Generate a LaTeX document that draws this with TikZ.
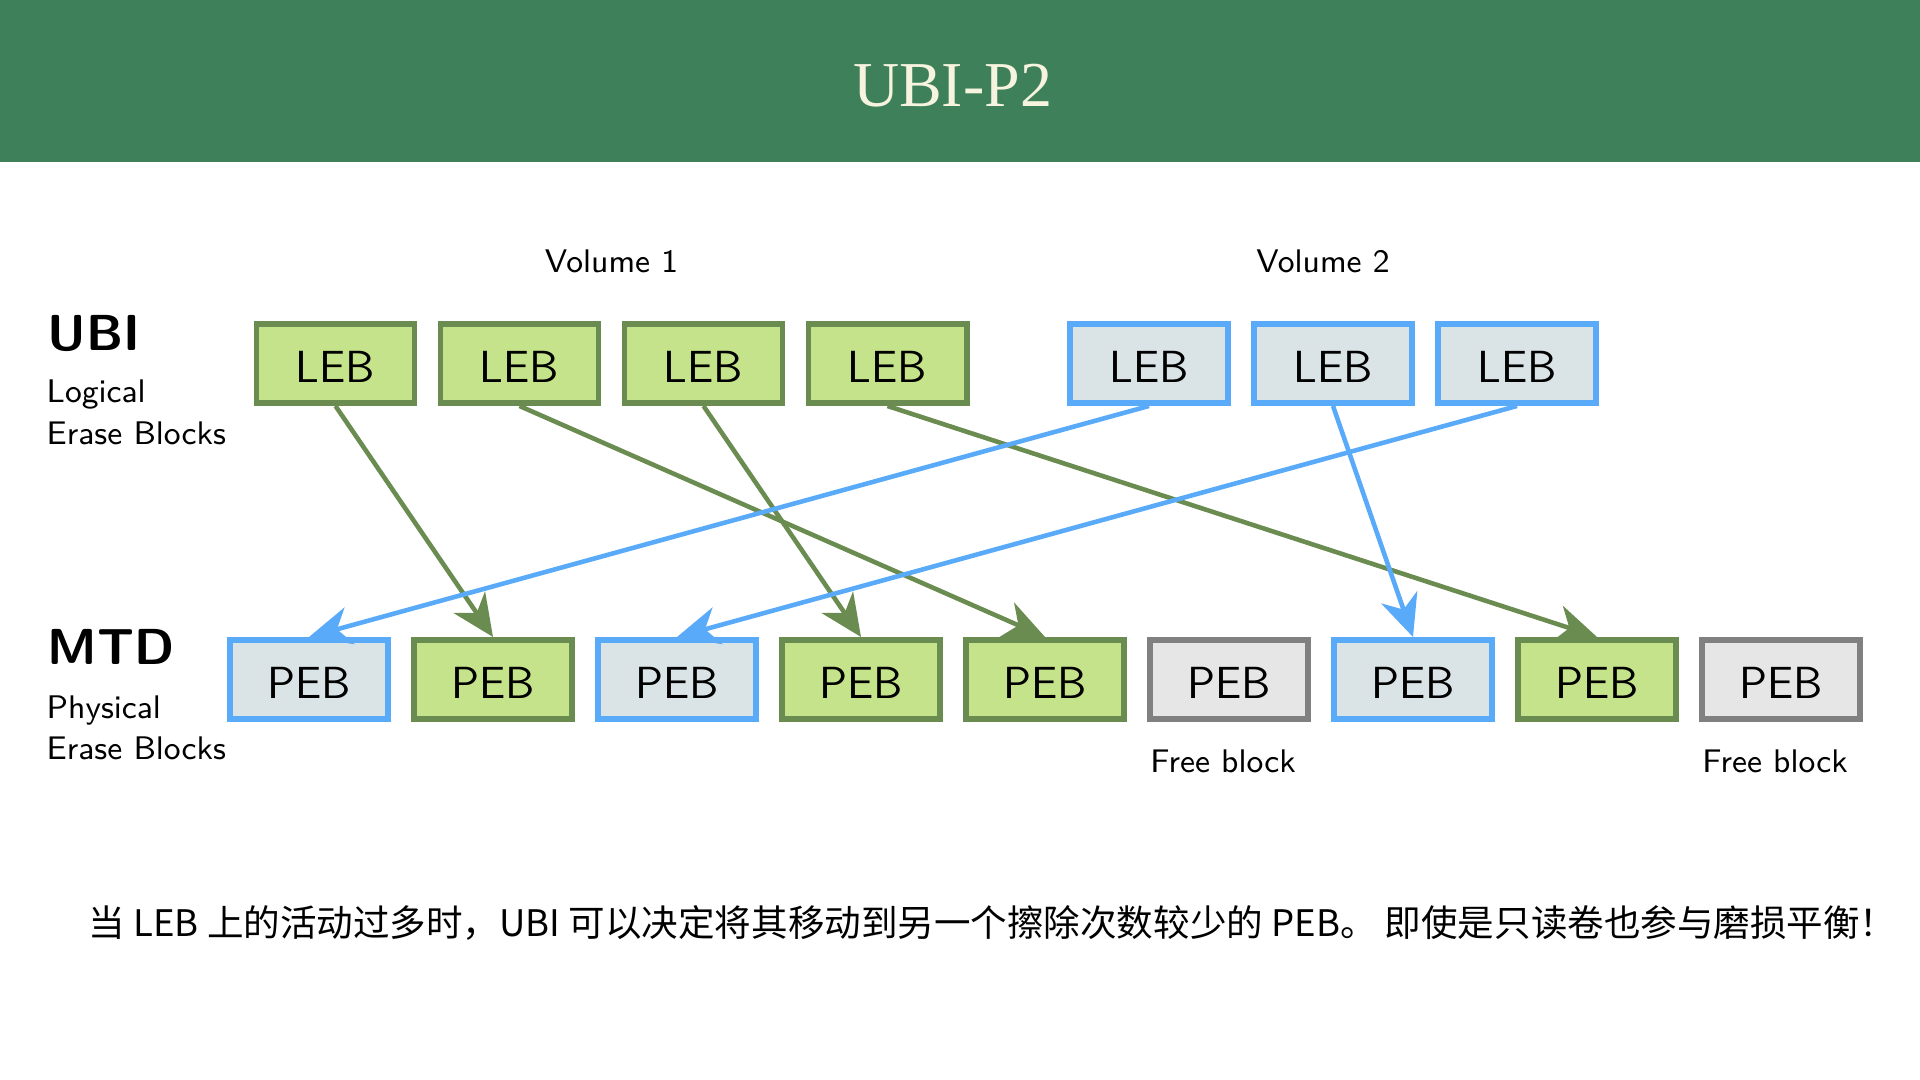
\documentclass[tikz,border=0pt]{standalone}
\usepackage{fontspec}
\newfontfamily\cjk{Noto Sans CJK SC}
\newfontfamily\titlefont{Liberation Serif}
\usepackage{tikz}
\usetikzlibrary{arrows.meta,positioning}
\usepackage{xcolor}
\definecolor{headgreen}{RGB}{62,128,90}
\definecolor{titlecream}{RGB}{246,243,222}
\definecolor{grnfill}{RGB}{197,227,138}
\definecolor{grnline}{RGB}{106,140,80}
\definecolor{bluefill}{RGB}{218,228,230}
\definecolor{blueline}{RGB}{90,170,250}
\definecolor{freefill}{RGB}{230,230,230}
\definecolor{freeline}{RGB}{128,128,128}
\tikzset{
  blk/.style={draw, line width=1.7pt, minimum width=1.58cm, minimum height=0.79cm,
    inner sep=0pt, text height=0.39cm, text depth=0pt,
    font=\fontsize{12.8}{14}\selectfont\sffamily},
  lebg/.style={blk, draw=grnline, fill=grnfill},
  lebb/.style={blk, draw=blueline, fill=bluefill},
  pebg/.style={blk, draw=grnline, fill=grnfill},
  pebb/.style={blk, draw=blueline, fill=bluefill},
  pebf/.style={blk, draw=freeline, fill=freefill},
  small/.style={inner sep=0pt, font=\fontsize{9.3}{11}\selectfont\sffamily},
  big/.style={inner sep=0pt, anchor=base west, font=\fontsize{14.4}{16}\selectfont\sffamily\bfseries},
  map/.style={line width=1.3pt, -{Stealth[length=4.2mm,width=3.8mm,inset=1.3mm]}},
}

\begin{document}
\begin{tikzpicture}
\useasboundingbox (0,0) rectangle (19.2,10.8);
\fill[white] (0,0) rectangle (19.2,10.8);
% header
\fill[headgreen] (0,9.175) rectangle (19.2,10.8);
\node[text=titlecream, font=\titlefont\fontsize{18.2}{20}\selectfont] (title) at (9.525,9.94) {UBI-P2};
% left labels
\node[big] (ubi) at (0.47,7.29) {UBI};
\node[small, anchor=base west] (ubi1) at (0.46,6.77) {Logical};
\node[small, anchor=base west] (ubi2) at (0.46,6.35) {Erase Blocks};
\node[big] (mtd) at (0.47,4.15) {MTD};
\node[small, anchor=base west] (mtd1) at (0.46,3.61) {Physical};
\node[small, anchor=base west] (mtd2) at (0.46,3.20) {Erase Blocks};
% volumes
\node[small, anchor=base] (vol1) at (6.115,8.07) {Volume 1};
\node[small, anchor=base] (vol2) at (13.23,8.07) {Volume 2};
% logical blocks
\foreach \i in {1,...,4}
    \node[lebg] (leb\i) at ({3.355+(\i-1)*1.84},7.165) {LEB};
\foreach \i in {5,6,7}
    \node[lebb] (leb\i) at ({11.49+(\i-5)*1.84},7.165) {LEB};
% physical blocks
\foreach \i/\s in {1/pebb,2/pebg,3/pebb,4/pebg,5/pebg,6/pebf,7/pebb,8/pebg,9/pebf}
    \node[\s] (peb\i) at ({3.09+(\i-1)*1.84},4.005) {PEB};
\node[small, below=0.27cm of peb6, xshift=-0.06cm] (free6) {Free block};
\node[small, below=0.27cm of peb9, xshift=-0.06cm] (free9) {Free block};
% mapping
\foreach \a/\b in {1/2,2/5,3/4,4/8}
    \draw[map, grnline] (leb\a.south) -- (peb\b.north);
\foreach \a/\b in {5/1,6/7,7/3}
    \draw[map, blueline] (leb\a.south) -- (peb\b.north);
% note
\node[anchor=west, inner sep=0pt, font=\cjk\fontsize{10.4}{12}\selectfont] (note) at (0.88,1.57)
    {当 LEB 上的活动过多时，UBI 可以决定将其移动到另一个擦除次数较少的 PEB。 即使是只读卷也参与磨损平衡！};
\end{tikzpicture}
\end{document}
